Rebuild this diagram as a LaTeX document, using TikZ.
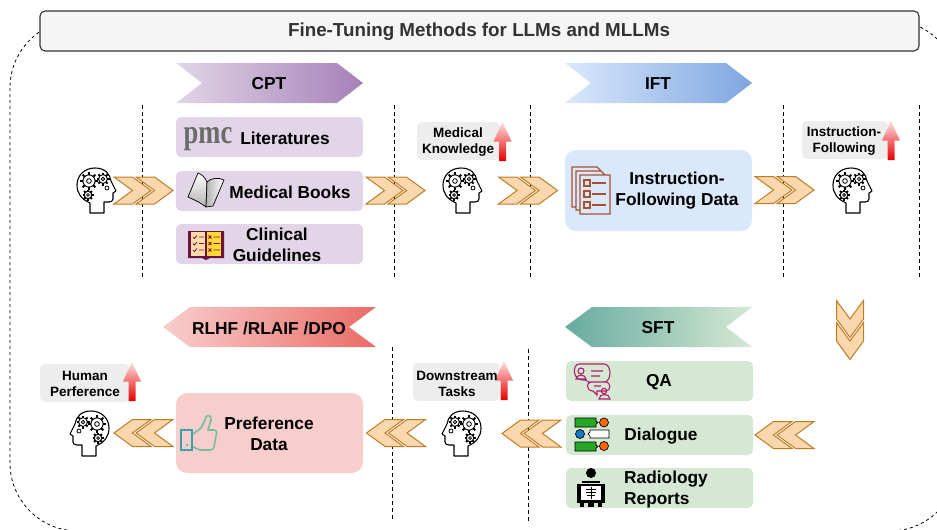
\documentclass[tikz,border=0pt]{standalone}
\usepackage{fontspec}
\setmainfont{Liberation Sans}
\newfontfamily\pmcfont{Liberation Serif}

\definecolor{chevronfill}{HTML}{FAD7AC}
\definecolor{chevronline}{HTML}{C07C24}
\definecolor{docbrown}{HTML}{A9502F}
\definecolor{qaberry}{HTML}{B0206A}
\definecolor{thumbteal}{HTML}{3D9FA8}
\definecolor{thumbgreen}{HTML}{74BE9E}
\definecolor{cptlight}{HTML}{E1D5E7}
\definecolor{cptdark}{HTML}{A680B8}
\definecolor{iftlight}{HTML}{DAE8FC}
\definecolor{iftdark}{HTML}{7EA6E0}
\definecolor{sftlight}{HTML}{D5E8D4}
\definecolor{sftdark}{HTML}{67AB9F}
\definecolor{rllight}{HTML}{F8CECC}
\definecolor{rldark}{HTML}{EA6B66}

\tikzset{
    tag/.style={font=\fontsize{13.5}{16}\selectfont\bfseries, align=center},
    heading/.style={font=\fontsize{17.3}{21}\selectfont\bfseries, align=center},
    guide/.style={dash pattern=on 4pt off 3pt, line width=.9pt},
    panel/.style={rounded corners=5pt},
    chevron/.style={fill=chevronfill, draw=chevronline, line width=1pt},
    pics/gear/.style={code={
        \draw[line width=1pt] (0, 0) circle ({#1*.68});
        \draw[line width=.8pt] (0, 0) circle ({#1*.26});
        \foreach \a in {0, 45, ..., 315}
            \draw[line width=2pt, rotate=\a] ({#1*.68}, 0) -- ({#1}, 0);
    }},
    pics/head/.style={code={
        \draw[line width=1.1pt, line join=round]
            (13, 45) -- (13, 35)
            .. controls (4, 31) and (0, 25) .. (0, 17)
            .. controls (0, 7) and (8, 0) .. (18, 0)
            .. controls (28, 0) and (33, 6) .. (34, 13)
            -- (39, 23) -- (36, 25) -- (36, 31)
            .. controls (36, 33) and (34, 34) .. (32, 34)
            -- (27, 34) -- (27, 45) -- cycle
        ;
        \pic at (12, 13) {gear=9};
        \pic at (26, 11) {gear=6.5};
        \pic at (11, 27) {gear=5.5};
        \draw[line width=.8pt] (30, 20) circle (2);
    }},
    pics/chevrons/.style={code={
        \foreach \s in {-29.5, -7.5}
            \draw[chevron, shift={(\s, 0)}]
                (0, -13.5) -- (18.5, -13.5) -- (37, 0) -- (18.5, 13.5)
                -- (0, 13.5) -- (18.5, 0) -- cycle
            ;
    }},
    pics/risearrow/.style={code={
        \shade[top color=red!12, bottom color=red!90!black]
            (0, 0) -- (9, 19.5) -- (3.5, 19.5) -- (3.5, 39)
            -- (-3.5, 39) -- (-3.5, 19.5) -- (-9, 19.5) -- cycle
        ;
    }},
}

\begin{document}
\begin{tikzpicture}[x=1pt, y=-1pt]

        \clip (0, 0) rectangle (937, 530);

        \draw[dashed, line width=.8pt, rounded corners=68pt] (10, 20) rectangle (958, 531);
        \draw[panel, fill=black!4, draw=black!80, line width=1.1pt] (40, 11) rectangle (919, 51);

        \foreach \x in {142, 394, 530, 783, 919}
            \draw[guide] (\x, 105) -- (\x, 278);
        \draw[guide] (392, 347) -- (392, 521);
        \draw[guide] (528, 349) -- (528, 522);

        \shade[left color=cptlight, right color=cptdark]
            (176, 63) -- (337, 63) -- (363, 83) -- (337, 103) -- (176, 103) -- (202, 83) -- cycle;
        \shade[left color=iftlight, right color=iftdark]
            (565, 63) -- (726, 63) -- (752, 83) -- (726, 103) -- (565, 103) -- (591, 83) -- cycle;
        \shade[left color=sftdark, right color=sftlight]
            (565, 327) -- (592, 307) -- (752, 307) -- (726, 327) -- (752, 347) -- (592, 347) -- cycle;
        \shade[left color=rllight, right color=rldark]
            (163, 327) -- (190, 307) -- (376, 307) -- (349, 327) -- (376, 347) -- (190, 347) -- cycle;

        \fill[panel, fill=cptlight]
            (176, 117) rectangle (363, 157)
            (176, 171) rectangle (363, 211)
            (176, 224) rectangle (363, 264)
        ;
        \fill[panel, fill=sftlight]
            (566, 361) rectangle (753, 401)
            (566, 415) rectangle (753, 455)
            (566, 468) rectangle (753, 508)
        ;
        \fill[rounded corners=11pt, fill=iftlight] (565, 150) rectangle (752, 231);
        \fill[rounded corners=11pt, fill=rllight] (176, 393) rectangle (363, 473);

        \fill[panel, fill=black!7]
            (417, 122) rectangle (500, 160)
            (802, 121) rectangle (888, 159)
            (40, 364)  rectangle (130, 402)
            (413, 363) rectangle (500, 401)
        ;

        \pic at (502.5, 122) {risearrow};
        \pic at (891, 121)   {risearrow};
        \pic at (132, 362)   {risearrow};
        \pic at (504, 361)   {risearrow};

        \pic at (77, 168)  {head};
        \pic at (443, 168) {head};
        \pic at (833, 168) {head};
        \pic[xscale=-1] at (109, 411) {head};
        \pic[xscale=-1] at (481, 411) {head};

        \pic at (143.5, 190.5) {chevrons};
        \pic at (395.5, 190.5) {chevrons};
        \pic at (528, 190.5)   {chevrons};
        \pic at (784.5, 190)   {chevrons};
        \pic[rotate=-90] at (850, 330)  {chevrons};
        \pic[rotate=180] at (784.5, 435) {chevrons};
        \pic[rotate=180] at (531.5, 433.5) {chevrons};
        \pic[rotate=180] at (396, 433)   {chevrons};
        \pic[rotate=180] at (143.5, 433) {chevrons};

        \draw
            (269, 84)   node [heading] (cpt)    {CPT}
            (658, 84)   node [heading] (ift)    {IFT}
            (658, 328)  node [heading] (sft)    {SFT}
            (269, 328)  node [heading] (rlhf)   {RLHF /RLAIF /DPO}
            (285, 138)  node [heading] (lit)    {Literatures}
            (290, 192)  node [heading] (books)  {Medical Books}
            (277, 245)  node [heading] (clin)   {Clinical\\Guidelines}
            (677, 191)  node [heading] (instr)  {Instruction-\\Following Data}
            (659, 382)  node [heading] (qa)     {QA}
            (661, 436)  node [heading] (dial)   {Dialogue}
            (624, 490)  node [heading, anchor=west, inner sep=0pt, align=left] (radio) {Radiology\\Reports}
            (269, 434)  node [heading] (pref)   {Preference\\Data}
            (458, 142.5) node [tag] (medk)  {Medical\\Knowledge}
            (844, 141.5) node [tag] (instk) {Instruction-\\Following}
            (85, 383.5)  node [tag] (human) {Human\\Perference}
            (457, 383.5) node [tag] (down)  {Downstream\\Tasks}
            (208, 139)  node [font=\fontsize{34}{34}\selectfont\pmcfont\bfseries, text=black!58, xscale=.78, inner sep=0pt] (pmc) {pmc}
            (479, 32)   node [font=\fontsize{18.8}{22}\selectfont\bfseries, text=black!80] (title) {Fine-Tuning Methods for LLMs and MLLMs}
        ;

        \draw[line width=.7pt, top color=white, bottom color=black!30, line join=round]
            (198, 173) .. controls (201, 174) and (205, 177) .. (207, 182)
            -- (206, 207) .. controls (201, 203) and (195, 200) .. (188, 197) -- cycle;
        \draw[line width=.7pt, left color=black!30, right color=white, line join=round]
            (207, 182) .. controls (211, 178) and (218, 177) .. (224, 180)
            -- (213, 206) -- (206, 207) -- cycle;

        \fill[fill=qaberry!60!black] (188, 231) rectangle (224, 258) (202, 258) -- (206, 260) -- (210, 258) -- cycle;
        \fill[fill=yellow!20!orange!30!white] (191, 232) rectangle (205, 256);
        \fill[fill=yellow!70!orange!80!white] (207, 232) rectangle (221, 256);
        \foreach \y in {237, 243.5, 250}
            \draw[line width=.8pt, qaberry!70!black]
                (193, \y) -- (194.5, \y + 1.5) -- (197, \y - 1.5)
                (199, \y) -- (204, \y)
                (208.5, \y - 1.5) -- (211.5, \y + 1.5)
                (208.5, \y + 1.5) -- (211.5, \y - 1.5)
                (213.5, \y) -- (220, \y)
            ;

        \draw[docbrown, line width=1.2pt]
            (576, 207) -- (572, 207) -- (572, 167) -- (597, 167) -- (601, 171)
            (580, 210) -- (576, 210) -- (576, 171) -- (601, 171) -- (605, 175)
            (580, 175) rectangle (610, 214)
        ;
        \foreach \y in {180, 191, 202}
            \draw[docbrown, line width=1.2pt]
                (584, \y) rectangle (590, \y + 6)
                (592, \y + 3) -- (606, \y + 3)
            ;

        \draw[thumbteal, line width=1.6pt] (181, 430) rectangle (192, 450);
        \fill[thumbteal] (187, 445) circle (1);
        \draw[thumbgreen, line width=1.6pt, line join=round]
            (193, 434) -- (201, 428) -- (205, 420)
            .. controls (205, 414) and (212, 414) .. (211, 420)
            -- (208, 430) -- (214, 430)
            .. controls (217, 430) and (217, 433) .. (216, 436)
            -- (214, 447)
            .. controls (213, 450) and (212, 450) .. (209, 450)
            -- (200, 450) -- (193, 447)
        ;

        \draw[qaberry, line width=1.1pt]
            (579, 364) -- (604, 364)
            .. controls (612, 364) and (612, 382) .. (604, 382)
            -- (589, 382) -- (585, 380)
            .. controls (572, 382) and (572, 364) .. (579, 364)
            (581, 371) circle (3)
            (576, 379) .. controls (576, 374) and (586, 374) .. (586, 379) -- cycle
            (591, 371) -- (603, 371)
            (591, 376) -- (600, 376)
            (591, 382) -- (606, 382)
            .. controls (611, 382) and (611, 391) .. (606, 391)
            -- (597, 391) -- (597, 395) -- (593, 391)
            .. controls (586, 391) and (586, 382) .. (591, 382)
            (594, 386) -- (601, 386)
            (604, 391) circle (2.7)
            (599, 399) .. controls (599, 393) and (610, 393) .. (610, 399) -- cycle
        ;

        \foreach \y in {418, 442}
            \draw[fill=green!60!black!85!white, line width=.7pt]
                (575, \y) -- (596, \y) -- (596, \y + 3) -- (598, \y + 4.5) -- (596, \y + 6)
                -- (596, \y + 9) -- (575, \y + 9) -- cycle;
        \foreach \y in {422.5, 446}
            \draw[fill=orange!80!red, line width=.7pt] (604, \y) circle (4.5);
        \draw[fill=cyan!60!blue, line width=.7pt] (580, 434) circle (4.5);
        \draw[fill=white, line width=.7pt]
            (590, 430) -- (609, 430) -- (609, 438) -- (590, 438) -- (590, 436) -- (588, 434) -- (590, 432) -- cycle;

        \fill (591, 473) circle (5);
        \fill (582, 481) rectangle (600, 482.5);
        \fill (577, 484) rectangle (605, 503);
        \fill (580, 503) rectangle (584, 507);
        \fill (588, 503) rectangle (594, 507);
        \fill (598, 503) rectangle (602, 507);
        \fill[white] (581, 486) rectangle (601, 500);
        \draw[line width=.7pt]
            (591, 487) -- (591, 499)
            (586, 489) -- (596, 489)
            (586, 492) -- (596, 492)
            (587, 495) -- (595, 495)
        ;

    \end{tikzpicture}
\end{document}
